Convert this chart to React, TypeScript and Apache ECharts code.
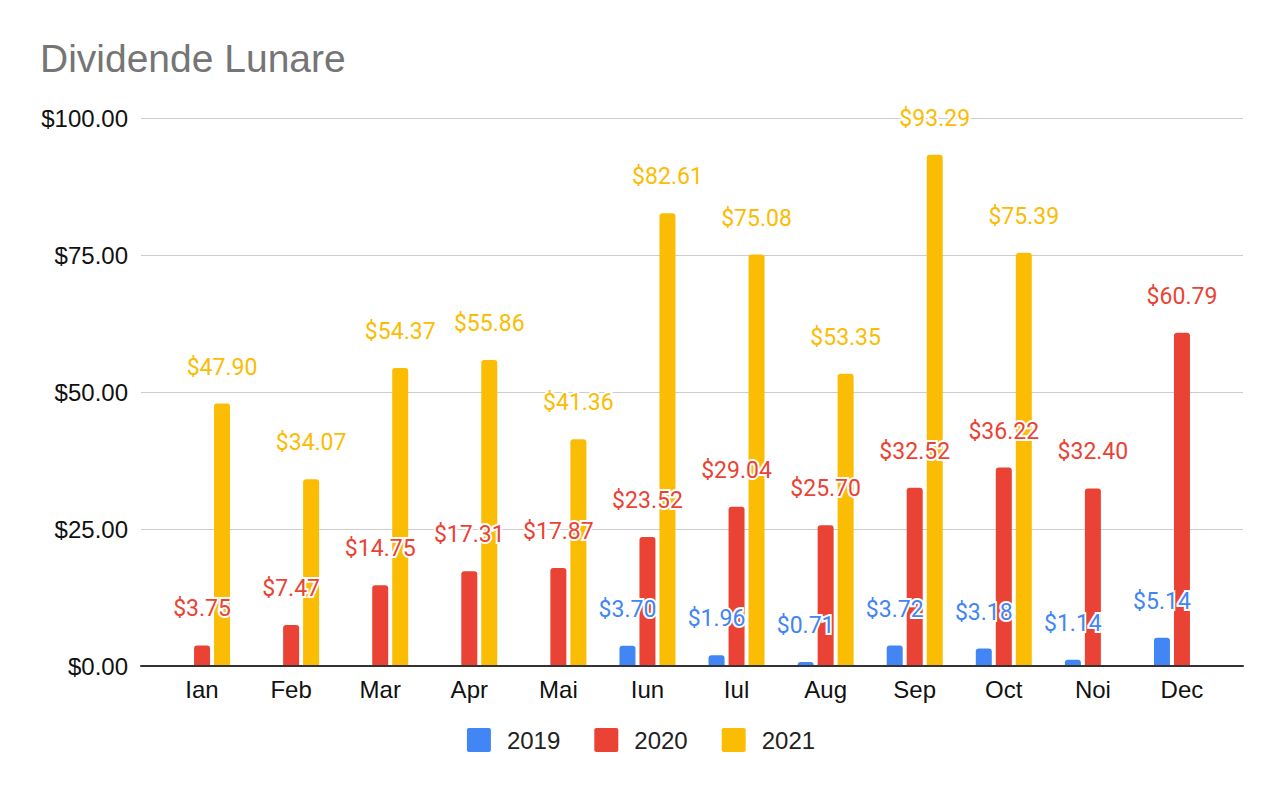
import React, { useEffect, useRef } from "react";
import * as echarts from "echarts";

const months = ["Ian", "Feb", "Mar", "Apr", "Mai", "Iun", "Iul", "Aug", "Sep", "Oct", "Noi", "Dec"];
const seriesNames = ["2019", "2020", "2021"];
const values2019 = [null, null, null, null, null, 3.7, 1.96, 0.71, 3.72, 3.18, 1.14, 5.14];
const values2020 = [3.75, 7.47, 14.75, 17.31, 17.87, 23.52, 29.04, 25.7, 32.52, 36.22, 32.4, 60.79];
const values2021 = [47.9, 34.07, 54.37, 55.86, 41.36, 82.61, 75.08, 53.35, 93.29, 75.39, null, null];
const colors = ["#4285F4", "#EA4335", "#FBBC04"];
const yTicks = { min: 0, max: 100, interval: 25 };

const AXIS_FONT = "'Liberation Sans', Arial, sans-serif";
const LABEL_FONT = "Roboto, 'Liberation Sans', sans-serif";

export default function App() {
  const ref = useRef<HTMLDivElement>(null);
  useEffect(() => {
    if (!ref.current) return;
    const chart = echarts.init(ref.current, null, { renderer: "svg" });
    const allValues = [values2019, values2020, values2021];
    const legendIcon = "path://M2,0 H22 A2,2 0 0 1 24,2 V22 A2,2 0 0 1 22,24 H2 A2,2 0 0 1 0,22 V2 A2,2 0 0 1 2,0 Z";
    chart.setOption({
      animation: false,
      backgroundColor: "#ffffff",
      title: {
        text: "Dividende Lunare",
        left: 40,
        top: 39,
        padding: 0,
        textStyle: { fontFamily: AXIS_FONT, fontSize: 39, fontWeight: "normal", color: "#757575" },
      },
      legend: {
        data: seriesNames,
        left: "center",
        top: 728,
        padding: 0,
        itemWidth: 24,
        itemHeight: 24,
        itemGap: 34,
        icon: legendIcon,
        textStyle: { fontFamily: AXIS_FONT, fontSize: 24, color: "#222222", padding: [0, 0, 0, 11] },
      },
      grid: [
        { left: 141, right: 39, top: 118, bottom: 126 },
        { left: 157.5, right: 55.5, top: 118, bottom: 126 },
      ],
      xAxis: [
        {
          gridIndex: 0,
          type: "category",
          data: months,
          axisLine: { show: true, lineStyle: { color: "#333333", width: 2 } },
          axisTick: { show: false },
          axisLabel: { show: false },
          splitLine: { show: false },
          z: 5,
        },
        {
          gridIndex: 1,
          type: "category",
          data: months,
          axisLine: { show: false },
          axisTick: { show: false },
          axisLabel: { fontFamily: AXIS_FONT, fontSize: 24, color: "#111111", margin: 11 },
        },
      ],
      yAxis: [
        {
          gridIndex: 0,
          type: "value",
          min: yTicks.min,
          max: yTicks.max,
          interval: yTicks.interval,
          axisLine: { show: false },
          axisTick: { show: false },
          axisLabel: {
            fontFamily: AXIS_FONT,
            fontSize: 24,
            color: "#111111",
            margin: 13,
            formatter: (v: number) => "$" + v.toFixed(2),
          },
          splitLine: { show: true, lineStyle: { color: "#cccccc", width: 1 } },
        },
        {
          gridIndex: 1,
          type: "value",
          min: yTicks.min,
          max: yTicks.max,
          interval: yTicks.interval,
          show: false,
          splitLine: { show: false },
        },
      ],
      series: seriesNames.map((name, i) => ({
        name,
        type: "bar",
        xAxisIndex: 1,
        yAxisIndex: 1,
        data: allValues[i],
        barWidth: 16,
        barGap: "25%",
        itemStyle: { color: colors[i], borderRadius: [3, 3, 0, 0] },
        label: {
          show: true,
          position: "top",
          distance: 25,
          fontFamily: LABEL_FONT,
          fontSize: 23,
          color: colors[i],
          textBorderColor: "#ffffff",
          textBorderWidth: 4,
          formatter: (p: any) => (p.value == null ? "" : "$" + Number(p.value).toFixed(2)),
        },
        z: 3,
      })),
    });
    return () => chart.dispose();
  }, []);
  return (
    <div
      ref={ref}
      style={{ position: "absolute", left: 0, top: 0, width: 1282, height: 792 }}
    />
  );
}
